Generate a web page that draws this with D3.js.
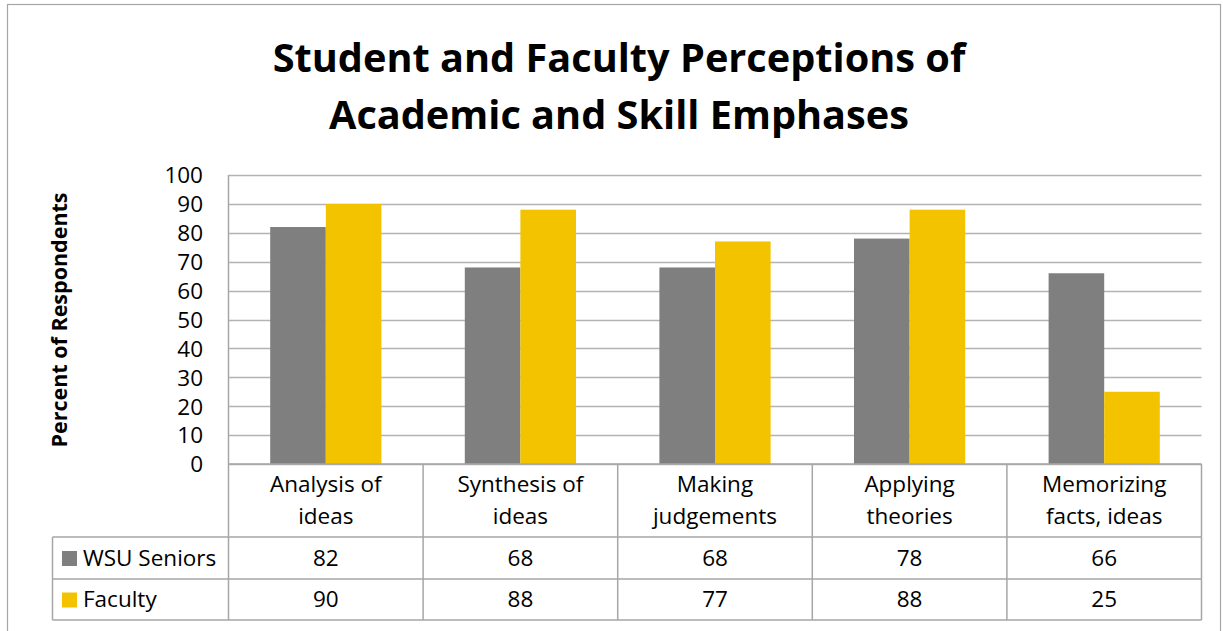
<!DOCTYPE html>
<html>
<head>
<meta charset="utf-8">
<script src="https://cdnjs.cloudflare.com/ajax/libs/d3/7.8.5/d3.min.js"></script>
<style>
  body { margin: 0; background: #fff; }
  svg { display: block; font-family: "Open Sans", sans-serif; }
</style>
</head>
<body>
<script>
// chart data
var categories = [["Analysis of", "ideas"], ["Synthesis of", "ideas"], ["Making", "judgements"], ["Applying", "theories"], ["Memorizing", "facts, ideas"]];
var seriesNames = ["WSU Seniors", "Faculty"];
var seniors = [82, 68, 68, 78, 66];
var faculty = [90, 88, 77, 88, 25];
var yTicks = [0, 10, 20, 30, 40, 50, 60, 70, 80, 90, 100];
var colors = ["#7f7f7f", "#f3c300"];

var w = 1223, h = 631;
var plotLeft = 228.5, plotRight = 1201.5, plotTop = 175, plotBottom = 464;
var rowCat = 537, rowA = 579, rowB = 620, legendLeft = 52.5;
var fs = 22.5;

var svg = d3.select("body").append("svg").attr("width", w).attr("height", h);

svg.append("rect").attr("x", 7.5).attr("y", 4.5).attr("width", 1213).attr("height", 640)
   .attr("fill", "#fff").attr("stroke", "#a6a6a6").attr("stroke-width", 1.2);

// title
svg.append("text").attr("x", 619).attr("y", 72).attr("text-anchor", "middle")
   .attr("font-size", 39.7).attr("font-weight", "bold").text("Student and Faculty Perceptions of");
svg.append("text").attr("x", 619).attr("y", 129).attr("text-anchor", "middle")
   .attr("font-size", 39.7).attr("font-weight", "bold").text("Academic and Skill Emphases");

var idx = d3.range(categories.length);
var x0 = d3.scaleBand().domain(idx).range([plotLeft, plotRight]);
var x1 = d3.scaleBand().domain(seriesNames).range([0, x0.bandwidth()]).paddingInner(0).paddingOuter(0.75);
var y = d3.scaleLinear().domain([0, 100]).range([plotBottom, plotTop]);

// gridlines
svg.append("g").selectAll("line").data(yTicks).enter().append("line")
   .attr("x1", plotLeft).attr("x2", plotRight)
   .attr("y1", function(d) { return Math.round(y(d)) + 0.5; })
   .attr("y2", function(d) { return Math.round(y(d)) + 0.5; })
   .attr("stroke", "#b3b3b3").attr("stroke-width", 1.5);

// bars
var allSeries = [seniors, faculty];
allSeries.forEach(function(vals, s) {
  svg.append("g").selectAll("rect").data(vals).enter().append("rect")
     .attr("x", function(d, i) { return x0(i) + x1(seriesNames[s]); })
     .attr("y", function(d) { return y(d); })
     .attr("width", x1.bandwidth())
     .attr("height", function(d) { return plotBottom - y(d); })
     .attr("fill", colors[s]);
});

// y axis
var yAxis = d3.axisLeft(y).tickValues(yTicks).tickSize(0).tickPadding(0);
var gy = svg.append("g").attr("transform", "translate(" + 203 + ",0)").call(yAxis);
gy.select(".domain").remove();
gy.selectAll("text").attr("font-size", fs).attr("font-family", "'Open Sans', sans-serif").attr("fill", "#000").attr("dy", "0.35em");

svg.append("text").attr("transform", "translate(67," + 320 + ") rotate(-90)")
   .attr("text-anchor", "middle").attr("font-size", 21.5).attr("font-weight", "bold")
   .text("Percent of Respondents");

// data table
var lineColor = "#a6a6a6";
var tg = svg.append("g").attr("stroke", lineColor).attr("stroke-width", 1.5);
tg.append("line").attr("x1", plotLeft).attr("x2", plotRight).attr("y1", plotBottom).attr("y2", plotBottom);
[rowCat, rowA, rowB].forEach(function(yy) {
  tg.append("line").attr("x1", legendLeft).attr("x2", plotRight).attr("y1", yy).attr("y2", yy);
});
tg.append("line").attr("x1", legendLeft).attr("x2", legendLeft).attr("y1", rowCat).attr("y2", rowB);
idx.concat([categories.length]).forEach(function(i) {
  var xx = i < categories.length ? x0(i) : plotRight;
  tg.append("line").attr("x1", xx).attr("x2", xx).attr("y1", i === 0 ? plotTop : plotBottom).attr("y2", rowB);
});

categories.forEach(function(c, i) {
  var cx = x0(i) + x0.bandwidth() / 2;
  c.forEach(function(line, k) {
    svg.append("text").attr("x", cx).attr("y", 492 + k * 32).attr("text-anchor", "middle")
       .attr("font-size", fs).text(line);
  });
});

var rows = [rowCat, rowA];
allSeries.forEach(function(vals, s) {
  var cy = (rows[s] + (s === 0 ? rowA : rowB)) / 2;
  svg.append("rect").attr("x", 62).attr("y", cy - 7).attr("width", 15).attr("height", 15).attr("fill", colors[s]);
  svg.append("text").attr("x", 83).attr("y", cy).attr("dy", "0.35em").attr("font-size", fs).text(seriesNames[s]);
  vals.forEach(function(v, i) {
    svg.append("text").attr("x", x0(i) + x0.bandwidth() / 2).attr("y", cy).attr("dy", "0.35em")
       .attr("text-anchor", "middle").attr("font-size", fs).text(v);
  });
});
</script>
</body>
</html>
